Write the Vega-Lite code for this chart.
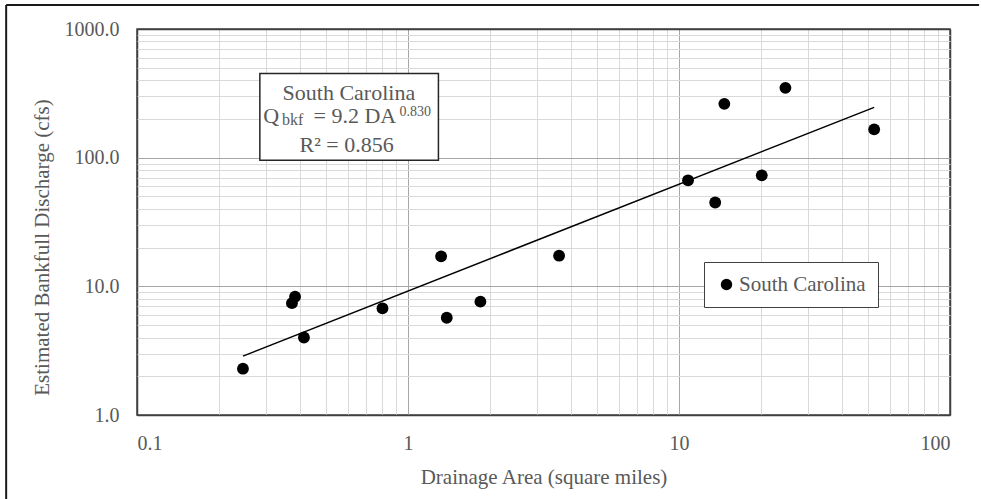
{
  "$schema": "https://vega.github.io/schema/vega-lite/v6.json",
  "autosize": {"type": "none"},
  "padding": {"left": 137, "top": 29, "right": 31, "bottom": 84},
  "width": 813,
  "height": 386,
  "background": "white",
  "config": {
    "font": "Liberation Serif, Times New Roman, serif",
    "view": {"stroke": "#404040", "strokeWidth": 1.5},
    "text": {"font": "Liberation Serif, Times New Roman, serif", "fill": "#595959"},
    "legend": {"labelFont": "Liberation Serif, Times New Roman, serif"},
    "axis": {
      "labelFont": "Liberation Serif, Times New Roman, serif",
      "titleFont": "Liberation Serif, Times New Roman, serif",
      "labelColor": "#595959",
      "titleColor": "#595959",
      "titleFontWeight": "normal",
      "ticks": false,
      "domain": false
    }
  },
  "datasets": {
    "sites": [
      {"DA": 0.246, "Q": 2.29, "state": "South Carolina"},
      {"DA": 0.373, "Q": 7.4, "state": "South Carolina"},
      {"DA": 0.383, "Q": 8.3, "state": "South Carolina"},
      {"DA": 0.413, "Q": 4.0, "state": "South Carolina"},
      {"DA": 0.805, "Q": 6.75, "state": "South Carolina"},
      {"DA": 1.325, "Q": 17.1, "state": "South Carolina"},
      {"DA": 1.39, "Q": 5.7, "state": "South Carolina"},
      {"DA": 1.85, "Q": 7.6, "state": "South Carolina"},
      {"DA": 3.61, "Q": 17.3, "state": "South Carolina"},
      {"DA": 10.8, "Q": 66.7, "state": "South Carolina"},
      {"DA": 13.6, "Q": 44.8, "state": "South Carolina"},
      {"DA": 14.7, "Q": 262, "state": "South Carolina"},
      {"DA": 20.2, "Q": 72.9, "state": "South Carolina"},
      {"DA": 24.7, "Q": 349, "state": "South Carolina"},
      {"DA": 52.5, "Q": 166, "state": "South Carolina"}
    ],
    "fit": [
      {"DA": 0.246, "Q": 2.87},
      {"DA": 52.5, "Q": 246}
    ],
    "note": [{"label": "South Carolina"}]
  },
  "layer": [
    {
      "data": {"name": "fit"},
      "mark": {"type": "line", "color": "black", "strokeWidth": 1.5},
      "encoding": {
        "x": {
          "field": "DA",
          "type": "quantitative",
          "scale": {"type": "log", "domain": [0.1, 100], "nice": false},
          "axis": {
            "title": "Drainage Area (square miles)",
            "titleFontSize": 21,
            "titlePadding": 13,
            "labelFontSize": 20,
            "labelPadding": 18,
            "format": "~g",
            "values": [0.1, 0.2, 0.3, 0.4, 0.5, 0.6, 0.7, 0.8, 0.9, 1, 2, 3, 4, 5, 6, 7, 8, 9, 10, 20, 30, 40, 50, 60, 70, 80, 90, 100],
            "labelExpr": "(datum.value == 0.1 || datum.value == 1 || datum.value == 10 || datum.value == 100) ? datum.label : ''",
            "gridColor": {
              "condition": [
                {"test": "datum.value == 0.1 || datum.value == 100", "value": "#404040"},
                {"test": "datum.value == 1 || datum.value == 10", "value": "#a6a6a6"}
              ],
              "value": "#d9d9d9"
            },
            "gridWidth": {
              "condition": {"test": "datum.value == 0.1 || datum.value == 100", "value": 1.5},
              "value": 1
            }
          }
        },
        "y": {
          "field": "Q",
          "type": "quantitative",
          "scale": {"type": "log", "domain": [1, 1000], "nice": false},
          "axis": {
            "title": "Estimated Bankfull Discharge (cfs)",
            "titleFontSize": 21,
            "titlePadding": 12,
            "titleY": 218,
            "labelFontSize": 20,
            "labelPadding": 18,
            "format": ".1f",
            "values": [1, 2, 3, 4, 5, 6, 7, 8, 9, 10, 20, 30, 40, 50, 60, 70, 80, 90, 100, 200, 300, 400, 500, 600, 700, 800, 900, 1000],
            "labelExpr": "(datum.value == 1 || datum.value == 10 || datum.value == 100 || datum.value == 1000) ? datum.label : ''",
            "gridColor": {
              "condition": [
                {"test": "datum.value == 1 || datum.value == 1000", "value": "#404040"},
                {"test": "datum.value == 10 || datum.value == 100", "value": "#a6a6a6"}
              ],
              "value": "#d9d9d9"
            },
            "gridWidth": {
              "condition": {"test": "datum.value == 1 || datum.value == 1000", "value": 1.5},
              "value": 1
            }
          }
        }
      }
    },
    {
      "data": {"name": "sites"},
      "mark": {"type": "point", "filled": true, "opacity": 1, "size": 140},
      "encoding": {
        "x": {"field": "DA", "type": "quantitative"},
        "y": {"field": "Q", "type": "quantitative"},
        "color": {
          "field": "state",
          "type": "nominal",
          "scale": {"range": ["black"]},
          "legend": {
            "title": null,
            "orient": "none",
            "legendX": 567,
            "legendY": 233,
            "padding": 12,
            "strokeColor": "#404040",
            "fillColor": "white",
            "symbolType": "circle",
            "symbolSize": 130,
            "symbolOpacity": 1,
            "symbolOffset": 0,
            "labelFontSize": 21,
            "labelColor": "#595959",
            "labelOffset": 2
          }
        }
      }
    },
    {
      "data": {"name": "note"},
      "layer": [
        {
          "mark": {"type": "rule", "stroke": "#1a1a1a", "strokeWidth": 2, "clip": false},
          "encoding": {
            "x": {"datum": 0.0329},
            "x2": {"datum": 128},
            "y": {"datum": 1535}
          }
        },
        {
          "mark": {"type": "rule", "stroke": "#1a1a1a", "strokeWidth": 2, "clip": false},
          "encoding": {
            "x": {"datum": 0.0329},
            "y": {"datum": 1535},
            "y2": {"datum": 0.2}
          }
        },
        {
          "mark": {"type": "rect", "fill": "white", "stroke": "#262626", "strokeWidth": 1.5},
          "encoding": {
            "x": {"datum": 0.284},
            "x2": {"datum": 1.295},
            "y": {"datum": 450},
            "y2": {"datum": 95.3}
          }
        },
        {
          "mark": {"type": "text", "fontSize": 22, "align": "center", "baseline": "alphabetic"},
          "encoding": {
            "x": {"datum": 0.605},
            "y": {"datum": 280.7},
            "text": {"field": "label"}
          }
        },
        {
          "mark": {"type": "text", "fontSize": 22, "align": "left", "baseline": "alphabetic"},
          "encoding": {
            "x": {"datum": 0.2924},
            "y": {"datum": 184.9},
            "text": {"value": "Q"}
          }
        },
        {
          "mark": {"type": "text", "fontSize": 16, "align": "left", "baseline": "alphabetic"},
          "encoding": {
            "x": {"datum": 0.3428},
            "y": {"datum": 178},
            "text": {"value": "bkf"}
          }
        },
        {
          "mark": {"type": "text", "fontSize": 22, "align": "right", "baseline": "alphabetic"},
          "encoding": {
            "x": {"datum": 0.905},
            "y": {"datum": 184.9},
            "text": {"value": "= 9.2 DA"}
          }
        },
        {
          "mark": {"type": "text", "fontSize": 14, "align": "left", "baseline": "alphabetic"},
          "encoding": {
            "x": {"datum": 0.93},
            "y": {"datum": 209},
            "text": {"value": "0.830"}
          }
        },
        {
          "mark": {"type": "text", "fontSize": 22, "align": "center", "baseline": "alphabetic"},
          "encoding": {
            "x": {"datum": 0.594},
            "y": {"datum": 111.2},
            "text": {"value": "R² = 0.856"}
          }
        }
      ]
    }
  ]
}
